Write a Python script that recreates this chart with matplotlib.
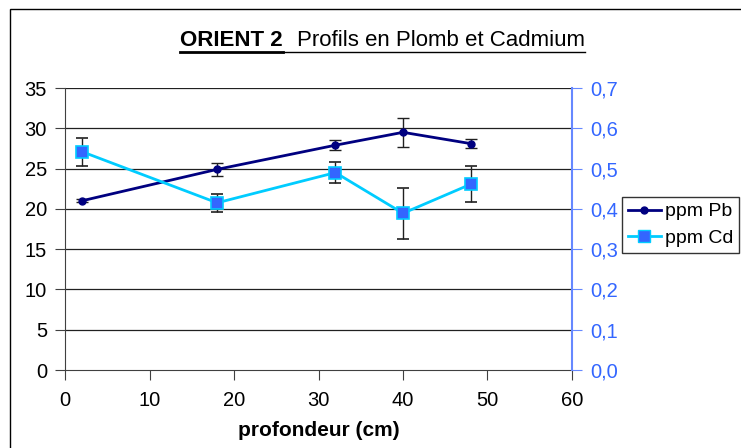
import matplotlib
matplotlib.use("Agg")
import matplotlib.pyplot as plt
from matplotlib.patches import Rectangle
from matplotlib.lines import Line2D

plt.rcParams['font.family'] = ['Liberation Sans', 'DejaVu Sans']

depth = [2, 18, 32, 40, 48]
pb = [21.0, 24.9, 27.9, 29.5, 28.1]
pb_err = [0.2, 0.85, 0.6, 1.8, 0.6]
cd = [0.542, 0.415, 0.49, 0.389, 0.461]
cd_err = [0.035, 0.022, 0.026, 0.064, 0.045]

left_ticks = [0, 5, 10, 15, 20, 25, 30, 35]
right_ticks = [0.0, 0.1, 0.2, 0.3, 0.4, 0.5, 0.6, 0.7]
right_labels = ["0,0", "0,1", "0,2", "0,3", "0,4", "0,5", "0,6", "0,7"]
x_ticks = [0, 10, 20, 30, 40, 50, 60]

W, H = 741, 448
fig = plt.figure(figsize=(W / 100, H / 100), dpi=100)
fig.patch.set_facecolor('white')

# outer chart border
fig.patches.append(Rectangle((10 / W, -0.1), 1.2, (H - 9) / H + 0.1,
                             transform=fig.transFigure, fill=False,
                             edgecolor='black', linewidth=1.0))

ax = fig.add_axes([65 / W, 1 - 370 / H, (572 - 65) / W, (370 - 88) / H])
ax2 = ax.twinx()

ax.set_xlim(0, 60)
ax.set_ylim(0, 35)
ax2.set_ylim(0, 0.7)

for y in left_ticks[1:]:
    ax.axhline(y, color='#202020', linewidth=0.9, zorder=0)

ax.errorbar(depth, pb, yerr=pb_err, color='#000080', linewidth=2,
            marker='o', markersize=5, ecolor='#202020', elinewidth=1,
            capsize=4.5, capthick=1, label='ppm Pb', zorder=3)
ax2.errorbar(depth, cd, yerr=cd_err, color='#00CCFF', linewidth=2,
             marker='s', markersize=9, markerfacecolor='#3366FF',
             markeredgecolor='#00CCFF', markeredgewidth=1.2,
             ecolor='#202020', elinewidth=1, capsize=4.5, capthick=1,
             label='ppm Cd', zorder=3)

ax.set_xticks(x_ticks)
ax.set_yticks(left_ticks)
ax2.set_yticks(right_ticks)
ax2.set_yticklabels(right_labels)

for a in (ax, ax2):
    a.spines['top'].set_visible(False)
ax.spines['right'].set_visible(False)
ax2.spines['left'].set_visible(False)
ax2.spines['bottom'].set_visible(False)
ax.spines['left'].set_color('#404040')
ax.spines['bottom'].set_color('#404040')
ax2.spines['right'].set_color('#6688FF')
ax2.spines['right'].set_linewidth(1.5)

ax.tick_params(axis='both', labelsize=14.5, length=7, color='#404040',
               direction='out', pad=6)
ax.tick_params(axis='x', pad=8)
ax2.tick_params(axis='y', labelsize=14.5, length=7, color='#6688FF',
                labelcolor='#3366FF', pad=6)

ax.set_xlabel('profondeur (cm)', fontsize=15, fontweight='bold', labelpad=8)

# legend
handles = [Line2D([], [], color='#000080', linewidth=2, marker='o', markersize=5),
           Line2D([], [], color='#00CCFF', linewidth=2, marker='s', markersize=9,
                  markerfacecolor='#3366FF', markeredgecolor='#00CCFF')]
leg = fig.legend(handles, ['ppm Pb', 'ppm Cd'], loc='upper left',
                 bbox_to_anchor=(622 / W, 1 - 197 / H), fontsize=14,
                 frameon=True, fancybox=False, edgecolor='black',
                 borderpad=0.3, handlelength=1.7, handletextpad=0.2,
                 labelspacing=0.45, borderaxespad=0)
leg.get_frame().set_linewidth(1.0)

# title with underline
t1 = fig.text(180 / W, 1 - 40 / H, 'ORIENT 2', fontsize=16, fontweight='bold',
              ha='left', va='center')
fig.canvas.draw()
r = fig.canvas.get_renderer()
bb1 = t1.get_window_extent(r)
t2 = fig.text(bb1.x1 / W + 14 / W, 1 - 40 / H, 'Profils en Plomb et Cadmium',
              fontsize=16, ha='left', va='center')
fig.canvas.draw()
bb2 = t2.get_window_extent(r)
yline = (bb1.y0 - 2) / H
fig.add_artist(Line2D([bb1.x0 / W, bb1.x1 / W], [yline, yline],
                      transform=fig.transFigure, color='black', linewidth=2))
fig.add_artist(Line2D([bb1.x1 / W, bb2.x1 / W], [yline, yline],
                      transform=fig.transFigure, color='black', linewidth=1))

fig.savefig('out.png', dpi=100)
